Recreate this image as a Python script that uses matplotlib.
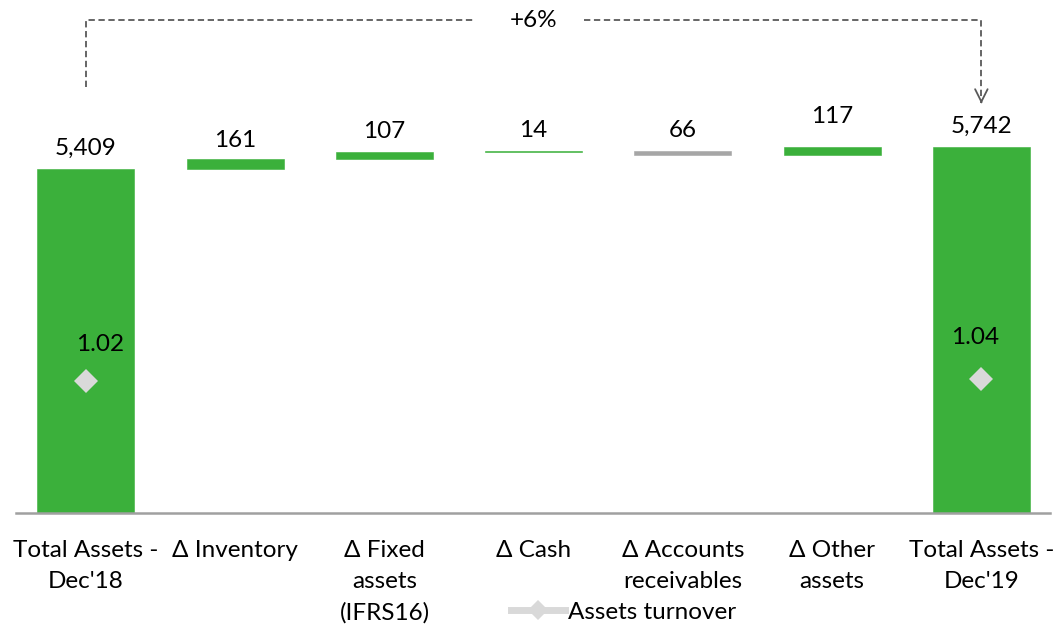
import numpy as np
import matplotlib
matplotlib.use('Agg')
import matplotlib.pyplot as plt

# data
categories = ["Total Assets -\nDec'18", "Δ Inventory", "Δ Fixed\nassets\n(IFRS16)",
              "Δ Cash", "Δ Accounts\nreceivables", "Δ Other\nassets", "Total Assets -\nDec'19"]
start_total = 5409
deltas = [161, 107, 14, -66, 117]
end_total = 5742
turnover = [1.02, np.nan, np.nan, np.nan, np.nan, np.nan, 1.04]

plt.rcParams['font.family'] = ['Lato', 'DejaVu Sans']
green = '#3BB03B'
grey_bar = '#A6A6A6'
dash_col = '#595959'
fs = 17.5

fig = plt.figure(figsize=(10.58, 6.3), dpi=100)
ax = fig.add_axes([16/1058, (630-513)/630, (1050-16)/1058, (513-10)/630])

x = np.arange(len(categories))
# waterfall positions
cum = np.cumsum([start_total] + deltas)
heights = [start_total] + [abs(d) for d in deltas] + [end_total]
bottoms = [0] + [min(cum[i], cum[i+1]) for i in range(len(deltas))] + [0]
tops = [b + h for b, h in zip(bottoms, heights)]
colors = [green] + [green if d > 0 else grey_bar for d in deltas] + [green]
labels = [f"{start_total:,}"] + [f"{abs(d)}" for d in deltas] + [f"{end_total:,}"]

ax.bar(x, heights, bottom=bottoms, width=0.65, color=colors, edgecolor=colors, linewidth=0.4)

lab_off = [21, 18, 20, 20, 20, 31, 21]
for i in range(len(x)):
    ax.annotate(labels[i], (x[i], tops[i]), xytext=(0, lab_off[i]), textcoords='offset pixels',
                ha='center', va='center', fontsize=fs, color='black')

ax.set_ylim(218, 5742 + (147-10)/0.06607)
ax.set_xlim(-0.469, 6.46)
ax.set_yticks([])
ax.set_xticks(x)
ax.set_xticklabels(categories, fontsize=fs, linespacing=1.58)
ax.tick_params(axis='x', length=0, pad=19.5)
for s in ['top', 'left', 'right']:
    ax.spines[s].set_visible(False)
ax.spines['bottom'].set_color('#A0A0A0')
ax.spines['bottom'].set_linewidth(1.8)

# bracket with growth
growth = (end_total / start_total - 1) * 100
y_br = 7660
ax.plot([0, 0, 2.61], [6650, y_br, y_br], ls=(0, (3.5, 2)), color=dash_col, lw=1.3)
ax.plot([3.34, 6, 6], [y_br, y_br, 6440], ls=(0, (3.5, 2)), color=dash_col, lw=1.3)
ax.annotate('', xy=(6, 6400), xytext=(6, 6470),
            arrowprops=dict(arrowstyle='->,head_length=0.9,head_width=0.45', color=dash_col, lw=1.3))
ax.text(3.0, y_br, f"+{growth:.0f}%", ha='center', va='center', fontsize=fs)

# assets turnover on secondary axis
ax2 = ax.twinx()
ax2.set_ylim(0, 3.9)
ax2.axis('off')
ax2.plot(x, turnover, color='#D9D9D9', lw=5, marker='D', markersize=12.5,
         markeredgewidth=0, label='Assets turnover')
t_off = [(14, 37), (-6, 41)]
k = 0
for i, v in enumerate(turnover):
    if not np.isnan(v):
        ax2.annotate(f"{v:.2f}", (x[i], v), xytext=t_off[k], textcoords='offset pixels',
                     ha='center', va='center', fontsize=fs)
        k += 1

fig.legend(loc='center', bbox_to_anchor=(624/1058, 18/630), frameon=False, fontsize=fs,
           handlelength=2.2, handletextpad=0.15, markerscale=0.8)

plt.savefig('out.png', dpi=100)
